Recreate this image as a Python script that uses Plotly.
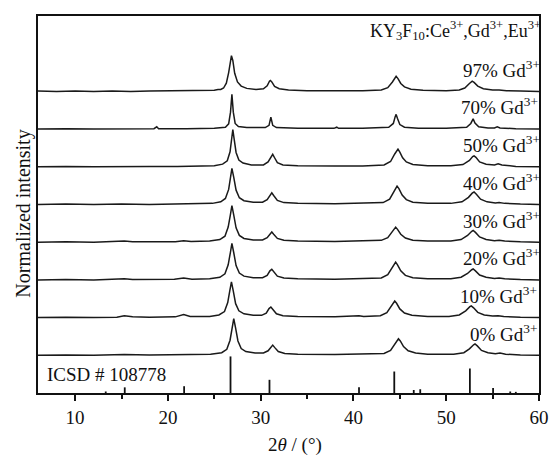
import plotly.graph_objects as go

# ---- data (2theta, relative intensity above each baseline) ----
SAMPLES = ["0% Gd<sup>3+</sup>", "10% Gd<sup>3+</sup>", "20% Gd<sup>3+</sup>", "30% Gd<sup>3+</sup>",
           "40% Gd<sup>3+</sup>", "50% Gd<sup>3+</sup>", "70% Gd<sup>3+</sup>", "97% Gd<sup>3+</sup>"]

P0 = [(6,0.0),(9,0.01),(12,0.0),(15.3,0.02),(18,0.01),(20.8,0.01),(21.7,0.03),(22.6,0.02),(24.6,0.03),
      (25.8,0.07),(26.35,0.16),(26.7,0.40),(26.93,0.72),(27.1,0.97),(27.3,0.72),(27.55,0.38),(27.9,0.18),
      (28.4,0.10),(29.4,0.06),(30.3,0.06),(30.8,0.12),(31.1,0.23),(31.3,0.27),(31.5,0.21),(31.9,0.10),
      (32.6,0.05),(34,0.03),(38,0.02),(41,0.03),(43.3,0.05),(44.0,0.13),(44.5,0.33),(44.75,0.43),
      (44.85,0.44),(45.05,0.38),(45.4,0.23),(45.9,0.12),(46.7,0.06),(48,0.03),(50.8,0.03),(51.9,0.07),
      (52.5,0.17),(52.95,0.28),(53.1,0.30),(53.35,0.25),(53.8,0.13),(54.5,0.07),(55.3,0.04),(55.8,0.06),
      (56.4,0.03),(58,0.01),(60,0.0)]

P10 = [(6,0.0),(9,0.01),(12,0.0),(14.5,0.01),(15.3,0.05),(16.2,0.02),(18,0.01),(20.8,0.02),(21.7,0.08),
       (22.4,0.03),(24.5,0.03),(25.5,0.07),(26.1,0.16),(26.45,0.40),(26.68,0.72),(26.85,0.95),(27.05,0.70),
       (27.3,0.37),(27.65,0.18),(28.2,0.10),(29.2,0.06),(30.1,0.06),(30.6,0.12),(30.9,0.24),(31.1,0.28),
       (31.3,0.22),(31.7,0.10),(32.4,0.05),(34,0.03),(38,0.02),(40.1,0.03),(40.6,0.05),(41.1,0.03),
       (42.9,0.05),(43.6,0.13),(44.1,0.33),(44.35,0.43),(44.45,0.44),(44.65,0.38),(45.0,0.23),(45.5,0.12),
       (46.3,0.06),(48,0.03),(50.3,0.03),(51.4,0.07),(52.1,0.18),(52.55,0.29),(52.7,0.31),(52.95,0.26),
       (53.4,0.14),(54.1,0.07),(55.0,0.04),(55.6,0.05),(56.2,0.03),(58,0.01),(60,0.0)]

P20 = [(6,0.0),(9,0.01),(12,0.0),(14.5,0.01),(15.3,0.03),(16.2,0.01),(18,0.01),(20.7,0.02),(21.7,0.05),
       (22.6,0.02),(24.5,0.03),(25.6,0.07),(26.15,0.16),(26.5,0.40),(26.73,0.72),(26.9,0.97),(27.1,0.72),
       (27.35,0.38),(27.7,0.18),(28.2,0.10),(29.2,0.06),(30.2,0.06),(30.7,0.12),(31.0,0.24),(31.2,0.28),
       (31.4,0.22),(31.8,0.10),(32.5,0.05),(34,0.03),(38,0.02),(41,0.03),(43.0,0.05),(43.7,0.14),
       (44.2,0.35),(44.45,0.45),(44.55,0.47),(44.75,0.40),(45.1,0.24),(45.6,0.12),(46.4,0.06),(48,0.03),
       (50.5,0.03),(51.6,0.07),(52.3,0.17),(52.75,0.27),(52.9,0.29),(53.15,0.24),(53.6,0.13),(54.3,0.07),
       (55.2,0.04),(55.7,0.05),(56.3,0.03),(58,0.01),(60,0.0)]

P30 = [(6,0.0),(9,0.01),(12,0.0),(14.5,0.01),(15.3,0.03),(16.2,0.01),(18,0.01),(20.8,0.01),(21.7,0.04),
       (22.5,0.02),(24.5,0.03),(25.6,0.07),(26.15,0.16),(26.5,0.40),(26.73,0.72),(26.9,0.97),(27.1,0.72),
       (27.35,0.38),(27.7,0.18),(28.2,0.10),(29.2,0.06),(30.2,0.06),(30.7,0.12),(31.0,0.23),(31.2,0.27),
       (31.4,0.21),(31.8,0.10),(32.5,0.05),(34,0.03),(38,0.02),(41,0.03),(43.0,0.05),(43.7,0.12),
       (44.2,0.30),(44.45,0.39),(44.55,0.40),(44.75,0.34),(45.1,0.21),(45.6,0.11),(46.4,0.05),(48,0.03),
       (50.5,0.03),(51.6,0.07),(52.3,0.18),(52.75,0.29),(52.9,0.31),(53.15,0.26),(53.6,0.14),(54.3,0.07),
       (55.2,0.04),(55.7,0.05),(56.3,0.03),(58,0.01),(60,0.0)]

P40 = [(6,0.0),(9,0.01),(12,0.0),(15,0.01),(18,0.0),(21,0.01),(23,0.01),(24.8,0.03),(25.7,0.07),
       (26.2,0.16),(26.55,0.40),(26.75,0.72),(26.9,0.96),(27.1,0.72),(27.35,0.38),(27.7,0.18),(28.2,0.10),
       (29.2,0.06),(30.2,0.06),(30.7,0.13),(31.0,0.26),(31.2,0.31),(31.4,0.24),(31.8,0.11),(32.5,0.05),
       (34,0.03),(38,0.02),(41,0.03),(43.2,0.05),(43.9,0.14),(44.35,0.35),(44.6,0.47),(44.7,0.49),
       (44.9,0.42),(45.25,0.25),(45.7,0.13),(46.4,0.06),(48,0.03),(50.5,0.03),(51.7,0.07),(52.4,0.19),
       (52.8,0.30),(53.0,0.33),(53.25,0.27),(53.7,0.14),(54.4,0.07),(55.3,0.04),(55.7,0.05),(56.3,0.03),
       (58,0.01),(60,0.0)]

P50 = [(6,0.0),(9,0.01),(12,0.0),(15,0.01),(18,0.01),(21,0.01),(23,0.01),(25,0.03),(25.9,0.07),
       (26.4,0.16),(26.7,0.40),(26.85,0.72),(27.0,0.99),(27.15,0.72),(27.35,0.38),(27.65,0.18),(28.1,0.10),
       (29,0.05),(30.3,0.05),(30.8,0.13),(31.1,0.27),(31.3,0.33),(31.5,0.24),(31.8,0.11),(32.4,0.05),
       (34,0.03),(38,0.02),(41,0.02),(43.3,0.05),(44.0,0.14),(44.45,0.34),(44.7,0.46),(44.8,0.47),
       (45.0,0.39),(45.3,0.24),(45.7,0.13),(46.4,0.06),(48,0.03),(50.5,0.03),(51.8,0.06),(52.5,0.17),
       (52.85,0.27),(53.0,0.29),(53.2,0.25),(53.6,0.13),(54.3,0.07),(55.2,0.05),(55.6,0.08),(56.0,0.05),
       (57.5,0.01),(60,0.0)]

P70 = [(6,0.0),(9,0.01),(12,0.0),(15,0.01),(18.5,0.01),(18.8,0.06),(19.0,0.01),(22,0.01),(25,0.02),
       (26.2,0.05),(26.55,0.14),(26.75,0.45),(26.9,0.92),(27.05,0.45),(27.25,0.15),(27.6,0.07),(28.5,0.04),
       (30.5,0.04),(30.9,0.10),(31.1,0.32),(31.3,0.10),(31.7,0.04),(34,0.02),(37.9,0.02),(38.2,0.05),
       (38.4,0.02),(41,0.02),(43.8,0.05),(44.3,0.15),(44.5,0.33),(44.6,0.39),(44.75,0.28),(45.0,0.12),
       (45.5,0.05),(47,0.02),(50,0.02),(52.2,0.05),(52.65,0.15),(52.9,0.27),(53.1,0.16),(53.5,0.06),
       (54.5,0.03),(55.2,0.03),(55.5,0.06),(55.8,0.03),(57.5,0.01),(60,0.0)]

P97 = [(6,0.01),(8,0.0),(10,0.01),(12,0.0),(14,0.01),(16,0.0),(18,0.01),(20,0.01),(22,0.01),(24.2,0.02),
       (25.0,0.03),(25.4,0.05),(25.7,0.05),(26.0,0.09),(26.3,0.22),(26.55,0.50),(26.72,0.80),(26.85,0.95),
       (27.0,0.82),(27.2,0.48),(27.5,0.25),(27.9,0.14),(28.5,0.08),(29.5,0.05),(30.3,0.07),(30.7,0.15),
       (30.95,0.27),(31.05,0.29),(31.2,0.25),(31.5,0.13),(32.0,0.07),(33,0.04),(35,0.02),(38,0.02),
       (41,0.02),(43.0,0.04),(43.7,0.10),(44.2,0.25),(44.5,0.38),(44.6,0.40),(44.8,0.34),(45.1,0.21),
       (45.5,0.12),(46.2,0.06),(47.5,0.03),(50,0.02),(51.4,0.04),(52.0,0.09),(52.5,0.21),(52.8,0.27),
       (53.0,0.24),(53.4,0.14),(54.0,0.07),(55.0,0.04),(55.7,0.04),(56.5,0.02),(58,0.01),(60,0.0)]

CURVES = [P0, P10, P20, P30, P40, P50, P70, P97]

# ICSD # 108778 reference pattern (stick positions, relative heights)
ICSD_POS = [13.3, 15.35, 21.75, 26.75, 30.95, 40.6, 44.4, 46.5, 47.2, 52.55, 55.05, 56.9, 57.5]
ICSD_INT = [0.04, 0.15, 0.18, 0.97, 0.35, 0.15, 0.57, 0.08, 0.10, 0.65, 0.13, 0.04, 0.03]

X_TICKS = [10, 20, 30, 40, 50, 60]

# ---- layout parameters ----
OFFSET_STEP = 1.0
LABEL_SHIFT = [0, 0, 3, 3, 3, 3, 1, 3]   # pixel nudge of each label's right edge
LABEL_DY = 0.6
FONT = "Liberation Serif, Times New Roman, serif"
LINE_COLOR = "#1a1a1a"

fig = go.Figure()

for i, pts in enumerate(CURVES):
    off = (i + 1) * OFFSET_STEP
    fig.add_trace(go.Scatter(
        x=[p[0] for p in pts], y=[p[1] + off for p in pts],
        mode="lines", line=dict(color=LINE_COLOR, width=1.5),
        showlegend=False, hoverinfo="skip"))
    fig.add_annotation(x=60, y=off + LABEL_DY, xshift=LABEL_SHIFT[i], text=SAMPLES[i],
                       xanchor="right", yanchor="middle", showarrow=False,
                       font=dict(family=FONT, size=19, color="#111"))

sx, sy = [], []
for p, h in zip(ICSD_POS, ICSD_INT):
    sx += [p, p, None]
    sy += [0, h, None]
fig.add_trace(go.Scatter(x=sx, y=sy, mode="lines",
                         line=dict(color="#111", width=1.8),
                         showlegend=False, hoverinfo="skip"))

fig.add_annotation(x=6.75, y=0.48, text="ICSD # 108778", xanchor="left", yanchor="middle",
                   showarrow=False, font=dict(family=FONT, size=19, color="#111"))
fig.add_annotation(x=60, y=9.62, xshift=4,
                   text="KY<sub>3</sub>F<sub>10</sub>:Ce<sup>3+</sup>,Gd<sup>3+</sup>,Eu<sup>3+</sup>",
                   xanchor="right", yanchor="middle", showarrow=False,
                   font=dict(family=FONT, size=18, color="#111"))

# axis titles as annotations
fig.add_annotation(xref="paper", yref="paper", x=0.513, y=-0.137, text="2<i>θ</i> / (°)",
                   xanchor="center", yanchor="middle", showarrow=False,
                   font=dict(family=FONT, size=19, color="#111"))
fig.add_annotation(xref="paper", yref="paper", x=-0.029, y=0.477, text="Normalized intensity",
                   textangle=-90, xanchor="center", yanchor="middle", showarrow=False,
                   font=dict(family=FONT, size=20, color="#111"))

fig.update_xaxes(range=[6, 60], tickvals=X_TICKS, ticks="outside", ticklen=6, tickwidth=1.5,
                 tickcolor="#111", showline=True, linewidth=2, linecolor="#111", mirror=True,
                 showgrid=False, zeroline=False,
                 minor=dict(dtick=5, tick0=0, ticks="outside", ticklen=4, tickwidth=1.5, tickcolor="#111"),
                 tickfont=dict(family=FONT, size=19, color="#111"))
fig.update_yaxes(range=[0, 10], showticklabels=False, ticks="", showline=True, linewidth=2,
                 linecolor="#111", mirror=True, showgrid=False, zeroline=False)

fig.update_layout(width=559, height=455, margin=dict(l=38, r=10, t=16, b=62),
                  plot_bgcolor="white", paper_bgcolor="white")

# remove the default 8px page margin so the figure sits at the window's top-left corner
fig.write_html("out.html", config={"displayModeBar": False},
               post_script="document.body.style.margin='0';document.body.style.overflow='hidden';")
